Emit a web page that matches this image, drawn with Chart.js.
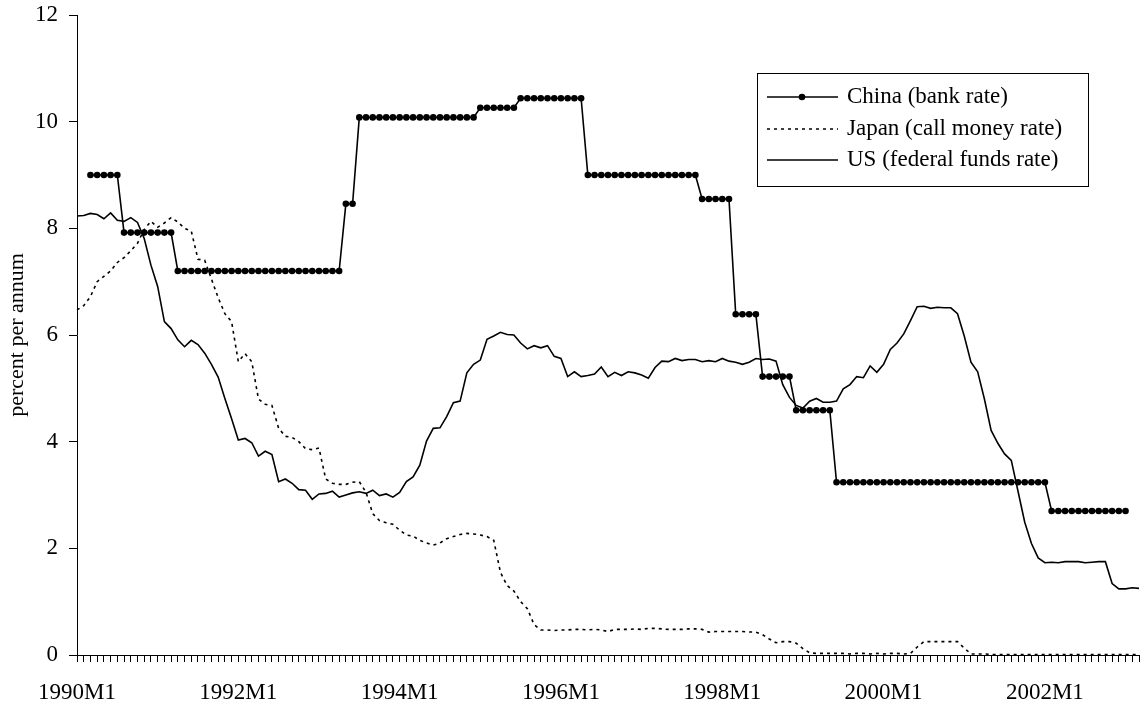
<!DOCTYPE html>
<html>
<head>
<meta charset="utf-8">
<script src="https://cdn.jsdelivr.net/npm/chart.js@4.4.0/dist/chart.umd.min.js"></script>
<style>
  html, body { margin: 0; padding: 0; background: #fff; }
</style>
</head>
<body>
<canvas id="rateChart" width="1143" height="706"></canvas>
<script>
// monthly categories 1990M1 .. 2003M3
var firstYear = 1990;
var lastYear = 2003;
var lastMonth = 3;
var months = [];
for (var y = firstYear; y <= lastYear; y++) {
    for (var m = 1; m <= 12; m++) {
        if (y === lastYear && m > lastMonth) break;
        months.push(y + 'M' + m);
    }
}
var labelEvery = 24;   // label 1990M1, 1992M1, ...

var yTicks = [0, 2, 4, 6, 8, 10, 12];

// China bank rate (one line per year)
var china = [
    null, null, 9.0, 9.0, 9.0, 9.0, 9.0, 7.92, 7.92, 7.92, 7.92, 7.92,
    7.92, 7.92, 7.92, 7.2, 7.2, 7.2, 7.2, 7.2, 7.2, 7.2, 7.2, 7.2,
    7.2, 7.2, 7.2, 7.2, 7.2, 7.2, 7.2, 7.2, 7.2, 7.2, 7.2, 7.2,
    7.2, 7.2, 7.2, 7.2, 8.46, 8.46, 10.08, 10.08, 10.08, 10.08, 10.08, 10.08,
    10.08, 10.08, 10.08, 10.08, 10.08, 10.08, 10.08, 10.08, 10.08, 10.08, 10.08, 10.08,
    10.26, 10.26, 10.26, 10.26, 10.26, 10.26, 10.44, 10.44, 10.44, 10.44, 10.44, 10.44,
    10.44, 10.44, 10.44, 10.44, 9.0, 9.0, 9.0, 9.0, 9.0, 9.0, 9.0, 9.0,
    9.0, 9.0, 9.0, 9.0, 9.0, 9.0, 9.0, 9.0, 9.0, 8.55, 8.55, 8.55,
    8.55, 8.55, 6.39, 6.39, 6.39, 6.39, 5.22, 5.22, 5.22, 5.22, 5.22, 4.59,
    4.59, 4.59, 4.59, 4.59, 4.59, 3.24, 3.24, 3.24, 3.24, 3.24, 3.24, 3.24,
    3.24, 3.24, 3.24, 3.24, 3.24, 3.24, 3.24, 3.24, 3.24, 3.24, 3.24, 3.24,
    3.24, 3.24, 3.24, 3.24, 3.24, 3.24, 3.24, 3.24, 3.24, 3.24, 3.24, 3.24,
    3.24, 2.7, 2.7, 2.7, 2.7, 2.7, 2.7, 2.7, 2.7, 2.7, 2.7, 2.7,
    2.7, null, null
];

// Japan call money rate
var japan = [
    6.47, 6.55, 6.72, 7.0, 7.1, 7.2, 7.36, 7.45, 7.58, 7.72, 7.98, 8.13,
    8.02, 8.1, 8.2, 8.12, 8.0, 7.95, 7.42, 7.4, 7.05, 6.7, 6.4, 6.25,
    5.5, 5.65, 5.5, 4.8, 4.7, 4.68, 4.25, 4.1, 4.08, 4.0, 3.87, 3.85,
    3.88, 3.3, 3.22, 3.2, 3.2, 3.24, 3.25, 3.05, 2.65, 2.52, 2.48, 2.45,
    2.34, 2.25, 2.23, 2.15, 2.1, 2.06, 2.1, 2.18, 2.22, 2.26, 2.28, 2.27,
    2.25, 2.22, 2.15, 1.55, 1.3, 1.2, 1.0, 0.87, 0.57, 0.47, 0.47, 0.46,
    0.47, 0.47, 0.48, 0.48, 0.47, 0.48, 0.47, 0.44, 0.48, 0.48, 0.48, 0.49,
    0.48, 0.5, 0.5, 0.49, 0.48, 0.48, 0.48, 0.49, 0.49, 0.48, 0.43, 0.44,
    0.44, 0.44, 0.44, 0.44, 0.43, 0.43, 0.38, 0.3, 0.23, 0.25, 0.25, 0.22,
    0.12, 0.04, 0.03, 0.03, 0.03, 0.03, 0.03, 0.02, 0.03, 0.03, 0.02, 0.03,
    0.02, 0.03, 0.03, 0.02, 0.03, 0.15, 0.25, 0.25, 0.25, 0.25, 0.25, 0.25,
    0.13, 0.02, 0.02, 0.02, 0.01, 0.01, 0.01, 0.01, 0.01, 0.01, 0.01, 0.01,
    0.01, 0.01, 0.01, 0.01, 0.01, 0.01, 0.01, 0.01, 0.01, 0.01, 0.01, 0.01,
    0.01, 0.01, 0.01
];

// US federal funds rate
var us = [
    8.23, 8.24, 8.28, 8.26, 8.18, 8.29, 8.15, 8.13, 8.20, 8.11, 7.81, 7.31,
    6.91, 6.25, 6.12, 5.91, 5.78, 5.90, 5.82, 5.66, 5.45, 5.21, 4.81, 4.43,
    4.03, 4.06, 3.98, 3.73, 3.82, 3.76, 3.25, 3.30, 3.22, 3.10, 3.09, 2.92,
    3.02, 3.03, 3.07, 2.96, 3.00, 3.04, 3.06, 3.03, 3.09, 2.99, 3.02, 2.96,
    3.05, 3.25, 3.34, 3.56, 4.01, 4.25, 4.26, 4.47, 4.73, 4.76, 5.29, 5.45,
    5.53, 5.92, 5.98, 6.05, 6.01, 6.00, 5.85, 5.74, 5.80, 5.76, 5.80, 5.60,
    5.56, 5.22, 5.31, 5.22, 5.24, 5.27, 5.40, 5.22, 5.30, 5.24, 5.31, 5.29,
    5.25, 5.19, 5.39, 5.51, 5.50, 5.56, 5.52, 5.54, 5.54, 5.50, 5.52, 5.50,
    5.56, 5.51, 5.49, 5.45, 5.49, 5.56, 5.54, 5.55, 5.51, 5.07, 4.83, 4.68,
    4.63, 4.76, 4.81, 4.74, 4.74, 4.76, 4.99, 5.07, 5.22, 5.20, 5.42, 5.30,
    5.45, 5.73, 5.85, 6.02, 6.27, 6.53, 6.54, 6.50, 6.52, 6.51, 6.51, 6.40,
    5.98, 5.49, 5.31, 4.80, 4.21, 3.97, 3.77, 3.65, 3.07, 2.49, 2.09, 1.82,
    1.73, 1.74, 1.73, 1.75, 1.75, 1.75, 1.73, 1.74, 1.75, 1.75, 1.34, 1.24,
    1.24, 1.26, 1.25
];

var seriesNames = ['China (bank rate)', 'Japan (call money rate)', 'US (federal funds rate)'];

var fontFamily = '"Liberation Serif", "Times New Roman", serif';

// legend drawn inside the plot, boxed, like the original
var boxLegend = {
    id: 'boxLegend',
    afterDraw: function (chart) {
        var ctx = chart.ctx;
        var box = { left: 757, top: 73, right: 1088, bottom: 186 };
        var rows = [97, 129, 160];
        ctx.save();
        ctx.strokeStyle = '#000';
        ctx.lineWidth = 1;
        ctx.strokeRect(box.left + 0.5, box.top + 0.5, box.right - box.left, box.bottom - box.top);
        chart.data.datasets.forEach(function (ds, i) {
            var y = rows[i];
            ctx.beginPath();
            ctx.setLineDash(ds.borderDash || []);
            ctx.lineWidth = ds.borderWidth;
            ctx.moveTo(767, y);
            ctx.lineTo(838, y);
            ctx.stroke();
            ctx.setLineDash([]);
            if (ds.pointRadius > 0) {
                ctx.beginPath();
                ctx.arc(802, y, ds.pointRadius, 0, Math.PI * 2);
                ctx.fillStyle = '#000';
                ctx.fill();
            }
            ctx.fillStyle = '#000';
            ctx.font = '23px ' + fontFamily;
            ctx.textBaseline = 'middle';
            ctx.textAlign = 'left';
            ctx.fillText(ds.label, 847, y);
        });
        ctx.restore();
    }
};

new Chart(document.getElementById('rateChart'), {
    type: 'line',
    data: {
        labels: months,
        datasets: [
            {
                label: seriesNames[0],
                data: china,
                borderColor: '#000',
                borderWidth: 1.6,
                pointRadius: 3.3,
                pointBackgroundColor: '#000',
                pointBorderWidth: 0,
                tension: 0
            },
            {
                label: seriesNames[1],
                data: japan,
                borderColor: '#000',
                borderWidth: 1.6,
                borderDash: [3, 4],
                pointRadius: 0,
                tension: 0
            },
            {
                label: seriesNames[2],
                data: us,
                borderColor: '#000',
                borderWidth: 1.6,
                pointRadius: 0,
                tension: 0
            }
        ]
    },
    options: {
        responsive: false,
        animation: false,
        devicePixelRatio: 1,
        layout: { padding: { top: 15, right: 2, left: 0, bottom: 0 } },
        plugins: {
            legend: { display: false },
            tooltip: { enabled: false }
        },
        scales: {
            x: {
                type: 'category',
                offset: false,
                border: { display: true, color: '#000', width: 1 },
                grid: { display: true, drawOnChartArea: false, drawTicks: true, tickLength: 7, color: '#000' },
                ticks: {
                    autoSkip: false,
                    maxRotation: 0,
                    minRotation: 0,
                    padding: 17,
                    color: '#000',
                    font: { family: fontFamily, size: 23 },
                    callback: function (value, index) {
                        return index % labelEvery === 0 ? months[index] : '';
                    }
                },
                afterFit: function (scale) {
                    scale.height = 51;
                    scale.paddingLeft = 0;
                    scale.paddingRight = 0;
                }
            },
            y: {
                min: 0,
                max: 12,
                border: { display: true, color: '#000', width: 1 },
                grid: { display: true, drawOnChartArea: false, drawTicks: true, tickLength: 8, color: '#000' },
                afterBuildTicks: function (scale) {
                    scale.ticks = yTicks.map(function (v) { return { value: v }; });
                },
                ticks: {
                    padding: 11,
                    color: '#000',
                    font: { family: fontFamily, size: 23 }
                },
                title: {
                    display: true,
                    text: 'percent per annum',
                    color: '#000',
                    font: { family: fontFamily, size: 22 },
                    padding: { top: 4, bottom: 0 }
                },
                afterFit: function (scale) {
                    scale.width = 77;
                    scale.paddingTop = 0;
                    scale.paddingBottom = 0;
                }
            }
        }
    },
    plugins: [boxLegend]
});
</script>
</body>
</html>
